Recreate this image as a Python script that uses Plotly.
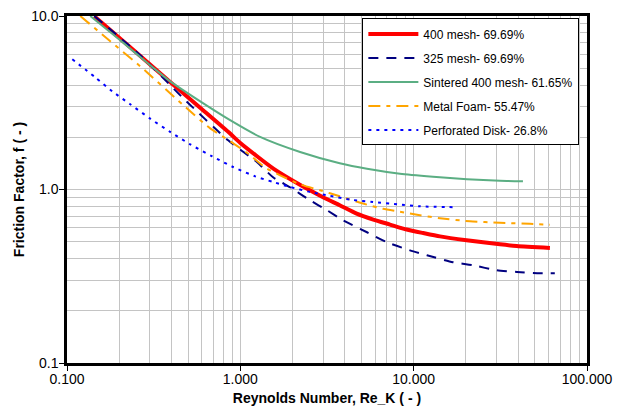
import plotly.graph_objects as go

# ---- data ----
mesh400_x = [0.1437, 0.2317, 0.3937, 0.5865, 0.8733, 1.0, 1.551, 2.416, 3.0, 3.745, 4.69, 5.85, 7.30, 9.11, 11.36, 14.18, 20.2, 31.5, 39.3, 61.1]
mesh400_y = [9.96, 6.60, 4.17, 2.96, 2.10, 1.854, 1.32, 1.012, 0.902, 0.811, 0.726, 0.671, 0.628, 0.588, 0.561, 0.537, 0.510, 0.483, 0.472, 0.460]

mesh325_x = [0.1437, 0.2645, 0.468, 0.851, 1.25, 1.545, 1.936, 2.525, 3.165, 3.91, 5.38, 7.02, 9.52, 11.93, 16.85, 21.97, 30.2, 39.4, 53.5, 65.2]
mesh325_y = [10.0, 5.94, 3.36, 1.92, 1.435, 1.176, 1.03, 0.866, 0.759, 0.665, 0.567, 0.496, 0.446, 0.418, 0.381, 0.366, 0.342, 0.335, 0.329, 0.329]

sintered_x = [0.1362, 0.2028, 0.302, 0.394, 0.587, 0.873, 1.30, 2.212, 3.745, 5.38, 8.34, 12.92, 20.3, 31.5, 42.7]
sintered_y = [10.0, 7.24, 5.20, 4.20, 3.22, 2.51, 2.01, 1.645, 1.416, 1.316, 1.232, 1.184, 1.145, 1.122, 1.115]

foam_x = [0.1193, 0.1777, 0.2645, 0.462, 0.67, 0.873, 1.139, 1.39, 1.696, 2.212, 2.884, 3.745, 5.04, 6.65, 8.34, 10.87, 14.18, 21.1, 31.5, 46.8, 61.1]
foam_y = [10.0, 7.15, 5.13, 3.10, 2.25, 1.90, 1.575, 1.34, 1.207, 1.07, 0.99, 0.914, 0.833, 0.774, 0.744, 0.71, 0.683, 0.656, 0.643, 0.634, 0.626]

disk_x = [0.1073, 0.1456, 0.1824, 0.2317, 0.3021, 0.3937, 0.5136, 0.688, 0.909, 1.217, 1.545, 1.936, 2.525, 3.29, 4.30, 5.83, 8.01, 10.87, 17.77]
disk_y = [5.63, 4.43, 3.68, 3.10, 2.56, 2.15, 1.82, 1.553, 1.348, 1.191, 1.105, 1.034, 0.967, 0.92, 0.874, 0.847, 0.822, 0.80, 0.79]

x_tickvals = [0.1, 1, 10, 100]
x_ticktext = ["0.100", "1.000", "10.000", "100.000"]
y_tickvals = [0.1, 1, 10]
y_ticktext = ["0.1", "1.0", "10.0"]

series = [
    ("400 mesh- 69.69%", mesh400_x, mesh400_y, "#FF0000", 4, "solid"),
    ("325 mesh- 69.69%", mesh325_x, mesh325_y, "#000080", 2, "10px,8px"),
    ("Sintered 400 mesh- 61.65%", sintered_x, sintered_y, "#5BAE83", 2, "solid"),
    ("Metal Foam- 55.47%", foam_x, foam_y, "#FFA500", 2, "12px,6px,4px,6px"),
    ("Perforated Disk- 26.8%", disk_x, disk_y, "#0000FF", 2, "3px,5px"),
]

fig = go.Figure()
for i, (name, xs, ys, color, width, dash) in enumerate(series):
    fig.add_trace(go.Scatter(
        x=xs, y=ys, mode="lines", name=name, legendgroup=f"g{i}",
        line=dict(color=color, width=width, dash=dash, shape="spline", smoothing=0.6),
    ))

font_family = "Liberation Sans, Arial, sans-serif"
grid_color = "#C4C4C4"

fig.update_layout(
    width=631, height=410,
    margin=dict(l=67, r=44, t=16, b=47),
    paper_bgcolor="white", plot_bgcolor="white",
    font=dict(family=font_family, size=14, color="black"),
    showlegend=True,
    legend=dict(
        x=0.568, y=0.993, xanchor="left", yanchor="top",
        bgcolor="white", bordercolor="black", borderwidth=1,
        font=dict(family=font_family, size=12, color="black"),
        traceorder="grouped", tracegroupgap=5, itemwidth=50,
    ),
)

fig.update_xaxes(
    type="log", range=[-1, 2], automargin=False,
    tickmode="array", tickvals=x_tickvals, ticktext=x_ticktext,
    ticks="outside", ticklen=5, tickcolor="black", ticklabelstandoff=-4,
    showline=True, linecolor="black", linewidth=2.5, mirror=True,
    showgrid=True, gridcolor=grid_color, gridwidth=1,
    minor=dict(dtick="D1", showgrid=True, gridcolor=grid_color, gridwidth=1, ticks=""),
    zeroline=False,
    title=dict(text="<b>Reynolds Number, Re_K ( - )</b>", font=dict(size=14), standoff=8),
    tickfont=dict(size=14),
)
fig.update_yaxes(
    type="log", range=[-1, 1], automargin=False,
    tickmode="array", tickvals=y_tickvals, ticktext=y_ticktext,
    ticks="outside", ticklen=5, tickcolor="black", ticklabelstandoff=-2,
    showline=True, linecolor="black", linewidth=2.5, mirror=True,
    showgrid=True, gridcolor=grid_color, gridwidth=1,
    minor=dict(dtick="D1", showgrid=True, gridcolor=grid_color, gridwidth=1, ticks=""),
    zeroline=False,
    title=dict(text="<b>Friction Factor, f ( - )</b>", font=dict(size=14), standoff=4),
    tickfont=dict(size=14),
)

fig.write_html("out.html")
